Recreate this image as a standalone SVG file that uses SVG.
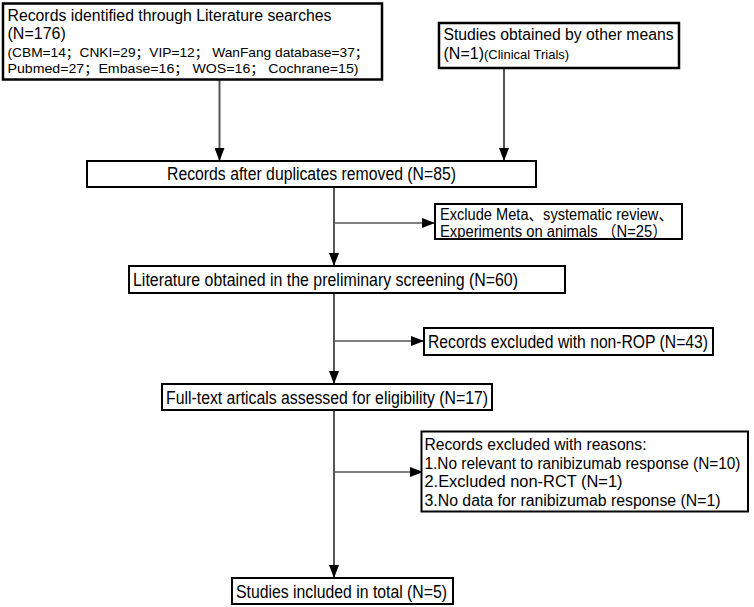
<svg xmlns="http://www.w3.org/2000/svg" width="754" height="607" viewBox="0 0 754 607">
<style>
.box{fill:#fff;stroke:#000;stroke-width:2}
.bx{fill:#fff;stroke:#000;stroke-width:2.5}
.t{font-family:"Liberation Sans",Arial,"Noto Sans CJK SC",sans-serif;font-size:16px;fill:#000}
.c{font-family:"Liberation Sans",Arial,"Noto Sans CJK SC",sans-serif;font-size:17.5px;fill:#000}
.e{font-family:"Liberation Sans",Arial,"Noto Sans CJK SC",sans-serif;font-size:16px;fill:#000}
.s{font-family:"Liberation Sans",Arial,"Noto Sans CJK SC",sans-serif;font-size:13px;fill:#000}
.ln{fill:none;stroke:#555;stroke-width:2}
.br{fill:none;stroke:#555;stroke-width:1.6}
</style>
<defs>
<marker id="ah" viewBox="0 0 13 10" markerWidth="13" markerHeight="10" refX="13" refY="5" orient="auto" markerUnits="userSpaceOnUse">
<path d="M0,0 L13,5 L0,10 z" fill="#000"/>
</marker>
</defs>
<rect width="754" height="607" fill="#fff"/>
<g id="connectors">
<line class="ln" x1="219.5" y1="80" x2="219.5" y2="161" marker-end="url(#ah)"/>
<line class="ln" x1="504" y1="68" x2="504" y2="161" marker-end="url(#ah)"/>
<line class="ln" x1="334" y1="187" x2="334" y2="266" marker-end="url(#ah)"/>
<line class="br" x1="334" y1="223" x2="435" y2="223" marker-end="url(#ah)"/>
<line class="ln" x1="334" y1="293" x2="334" y2="384" marker-end="url(#ah)"/>
<line class="br" x1="334" y1="341" x2="424" y2="341" marker-end="url(#ah)"/>
<line class="ln" x1="334" y1="410" x2="334" y2="578" marker-end="url(#ah)"/>
<line class="br" x1="334" y1="472" x2="423" y2="472" marker-end="url(#ah)"/>
</g>
<g id="n1">
<rect class="bx" x="3" y="3.5" width="379" height="76"/>
<text class="t" x="7.5" y="21" textLength="324" lengthAdjust="spacingAndGlyphs">Records identified through Literature searches</text>
<text class="t" x="7.5" y="38.5">(N=176)</text>
<text class="s" x="7.5" y="57" textLength="361" lengthAdjust="spacingAndGlyphs">(CBM=14；CNKI=29；VIP=12；  WanFang database=37；</text>
<text class="s" x="7.5" y="73" textLength="351" lengthAdjust="spacingAndGlyphs">Pubmed=27；Embase=16；  WOS=16；  Cochrane=15)</text>
</g>
<g id="n2">
<rect class="bx" x="439" y="23" width="240" height="45"/>
<text class="t" x="443.5" y="40" textLength="230" lengthAdjust="spacingAndGlyphs">Studies obtained by other means</text>
<text class="t" x="443.5" y="59">(N=1)<tspan style="font-size:13px">(Clinical Trials)</tspan></text>
</g>
<g id="n3">
<rect class="box" x="87" y="161" width="449" height="26"/>
<text class="c" x="167" y="179.5" textLength="289" lengthAdjust="spacingAndGlyphs">Records after duplicates removed (N=85)</text>
</g>
<g id="n4">
<rect class="box" x="435" y="204" width="247" height="35"/>
<text class="t" x="440" y="220" textLength="233" lengthAdjust="spacingAndGlyphs">Exclude Meta、systematic review、</text>
<text class="t" x="440" y="236.5" textLength="227" lengthAdjust="spacingAndGlyphs">Experiments on animals （N=25）</text>
</g>
<g id="n5">
<rect class="box" x="129" y="266" width="436" height="27"/>
<text class="c" x="133" y="286" textLength="385" lengthAdjust="spacingAndGlyphs">Literature obtained in the preliminary screening (N=60)</text>
</g>
<g id="n6">
<rect class="box" x="424" y="328" width="289" height="27"/>
<text class="c" x="428" y="348" textLength="280" lengthAdjust="spacingAndGlyphs">Records excluded with non-ROP (N=43)</text>
</g>
<g id="n7">
<rect class="box" x="162" y="384" width="330" height="26"/>
<text class="c" x="166" y="404" textLength="322" lengthAdjust="spacingAndGlyphs">Full-text articals assessed for eligibility (N=17)</text>
</g>
<g id="n8">
<rect class="box" x="421.5" y="431.5" width="326.5" height="80"/>
<text class="e" x="424.5" y="450" textLength="222" lengthAdjust="spacingAndGlyphs">Records excluded with reasons:</text>
<text class="e" x="424.5" y="468.5" textLength="316" lengthAdjust="spacingAndGlyphs">1.No relevant to ranibizumab response (N=10)</text>
<text class="e" x="424.5" y="487" textLength="198" lengthAdjust="spacingAndGlyphs">2.Excluded non-RCT (N=1)</text>
<text class="e" x="424.5" y="505.5" textLength="296" lengthAdjust="spacingAndGlyphs">3.No data for ranibizumab response (N=1)</text>
</g>
<g id="n9">
<rect class="box" x="232" y="578" width="221" height="26"/>
<text class="c" x="236" y="597.5" textLength="211" lengthAdjust="spacingAndGlyphs">Studies included in total (N=5)</text>
</g>
</svg>
